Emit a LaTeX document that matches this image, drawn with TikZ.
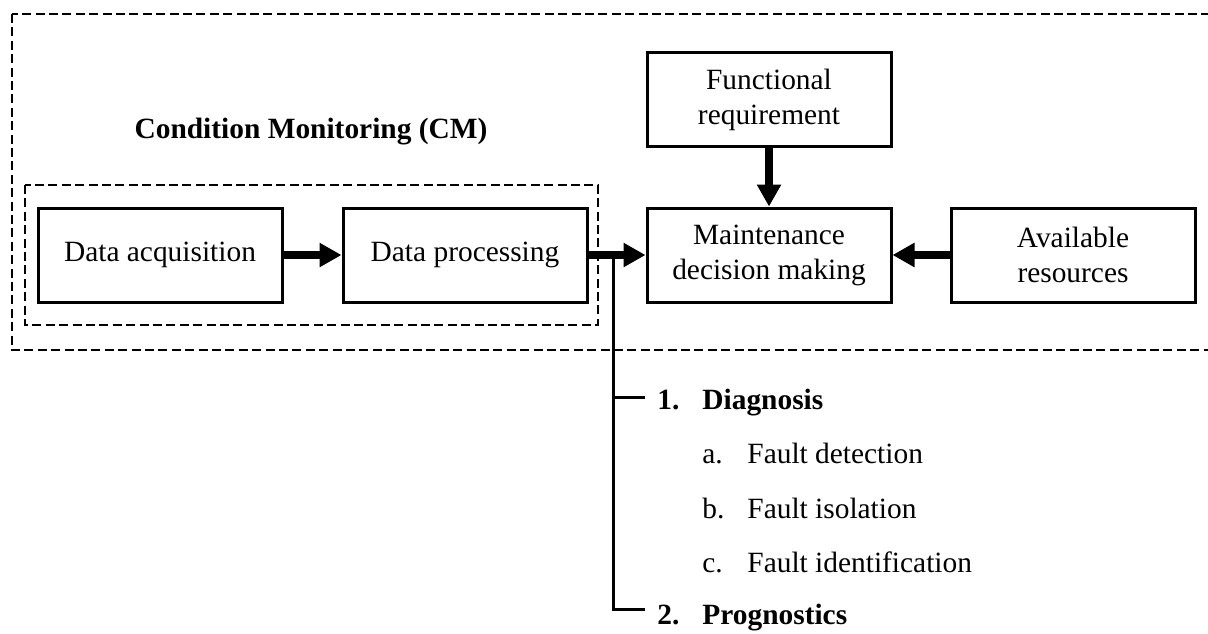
\documentclass[tikz,border=0pt]{standalone}
\usepackage{fontspec}
\setmainfont{Liberation Serif}
\usetikzlibrary{arrows.meta,calc}
\tikzset{
  txt/.style={font=\fontsize{14.7}{17.5}\selectfont},
  btxt/.style={font=\fontsize{14.7}{17.5}\selectfont\bfseries},
  blk/.style={txt, draw, line width=1.5pt, minimum width=122pt, minimum height=47pt,
    align=center, inner sep=0pt},
  flow/.style={line width=4pt, -{Triangle[length=11pt,width=11.5pt]}},
  grp/.style={draw, line width=1.4pt, dash pattern=on 4.5pt off 2.2pt},
  branch/.style={line width=1.5pt},
  item/.style={txt, anchor=base west, inner sep=0pt},
}
\begin{document}
\begin{tikzpicture}[x=0.5pt,y=-0.5pt]
\useasboundingbox (0,0) rectangle (1208,633);
\clip (0,0) rectangle (1208,633);

% group frames
\draw[grp] (12,14) rectangle (1240,350);
\draw[grp] (25,185) rectangle (598,325);
\node[btxt] (cm) at (311,132) {Condition Monitoring (CM)};

% blocks
\node[blk] (acq)   at (160,255) {Data acquisition};
\node[blk] (proc)  at (465,255) {Data processing};
\node[blk] (maint) at (769,255) {Maintenance\\decision making};
\node[blk] (func)  at (769,99.5) {Functional\\requirement};
\node[blk] (res)   at (1073,255) {Available\\resources};

% flows
\draw[flow] (acq) -- (proc);
\draw[flow] (proc) -- (maint);
\draw[flow] (func) -- (maint);
\draw[flow] (res) -- (maint);

% outcome list
\node[item, btxt] (n1) at (657,409) {1.};
\node[item, btxt] (diag) at (702,409) {Diagnosis};
\node[item] (la) at (702,463) {a.};
\node[item] (fa) at (747,463) {Fault detection};
\node[item] (lb) at (702,518) {b.};
\node[item] (fb) at (747,518) {Fault isolation};
\node[item] (lc) at (702,572) {c.};
\node[item] (fc) at (747,572) {Fault identification};
\node[item, btxt] (n2) at (657,624) {2.};
\node[item, btxt] (prog) at (702,624) {Prognostics};

% branch from the processing output
\coordinate (j) at ($(proc.east)!0.43!(maint.west)$);
\draw[branch] (j) |- ($(n1.west)+(-12,-2)$);
\draw[branch] (j) |- ($(n2.west)+(-12,-5)$);
\end{tikzpicture}
\end{document}
